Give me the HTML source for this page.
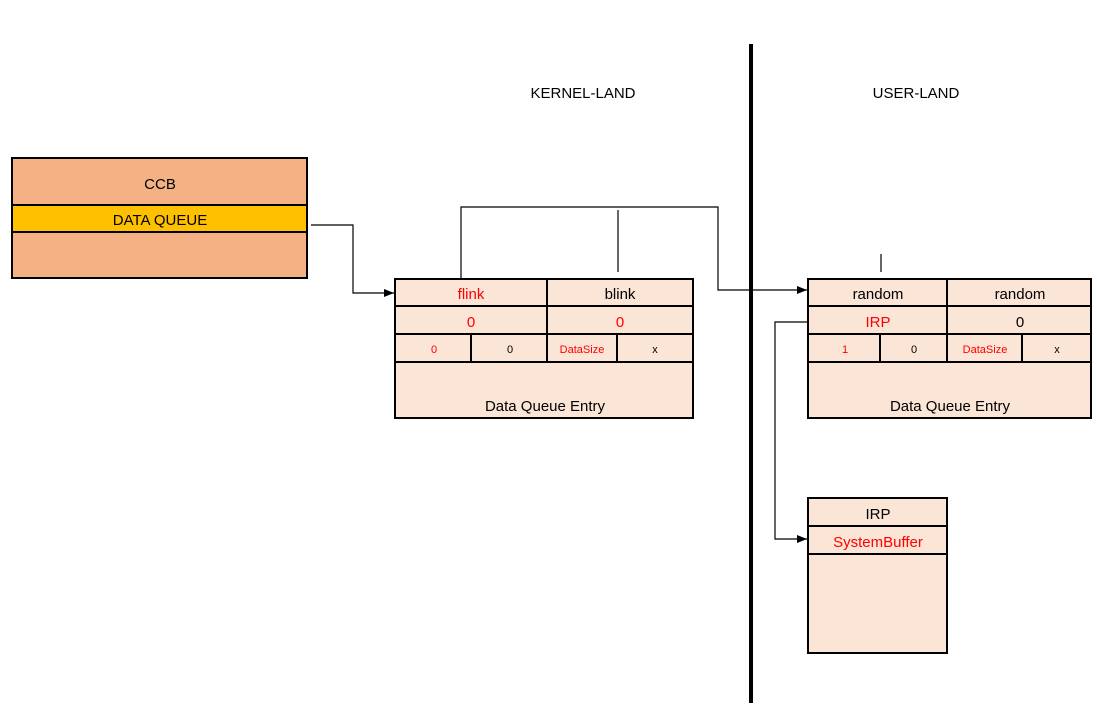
<!DOCTYPE html>
<html><head><meta charset="utf-8"><style>
html,body{margin:0;padding:0;background:#fff;}
svg{display:block;}
text{font-family:"Liberation Sans",sans-serif;}
</style></head><body>
<svg width="1097" height="712" viewBox="0 0 1097 712" xmlns="http://www.w3.org/2000/svg">
<defs>
<marker id="ar" markerWidth="10" markerHeight="8" refX="10" refY="4" orient="auto" markerUnits="userSpaceOnUse">
<path d="M0,0 L10,4 L0,8 z" fill="#000"/>
</marker>
</defs>
<!-- divider -->
<line x1="751" y1="44" x2="751" y2="703" stroke="#000" stroke-width="4"/>
<text x="583" y="98" font-size="15" text-anchor="middle" fill="#000">KERNEL-LAND</text>
<text x="916" y="98" font-size="15" text-anchor="middle" fill="#000">USER-LAND</text>

<!-- CCB -->
<rect x="12" y="158" width="295" height="120" fill="#F4B183" stroke="#000" stroke-width="2"/>
<rect x="12" y="205" width="295" height="27" fill="#FFC000" stroke="#000" stroke-width="2"/>
<text x="160" y="189" font-size="15" text-anchor="middle">CCB</text>
<text x="160" y="225" font-size="15" text-anchor="middle">DATA QUEUE</text>

<!-- connectors -->
<g fill="none" stroke="#000" stroke-width="1.2">
<polyline points="311,225 353,225 353,293 394,293" marker-end="url(#ar)"/>
<polyline points="461,278 461,207 718,207 718,290 807,290" marker-end="url(#ar)"/>
<line x1="618" y1="210" x2="618" y2="272"/>
<line x1="881" y1="254" x2="881" y2="272"/>
<polyline points="808,322 775,322 775,539 807,539" marker-end="url(#ar)"/>
</g>

<!-- left entry -->
<g stroke="#000" stroke-width="2" fill="#FBE5D6">
<rect x="395" y="279" width="298" height="139"/>
<line x1="395" y1="306" x2="693" y2="306"/>
<line x1="395" y1="334" x2="693" y2="334"/>
<line x1="395" y1="362" x2="693" y2="362"/>
<line x1="547" y1="279" x2="547" y2="362"/>
<line x1="471" y1="334" x2="471" y2="362"/>
<line x1="617" y1="334" x2="617" y2="362"/>
</g>
<text x="471" y="299" font-size="15" text-anchor="middle" fill="#F00">flink</text>
<text x="620" y="299" font-size="15" text-anchor="middle">blink</text>
<text x="471" y="327" font-size="15" text-anchor="middle" fill="#F00">0</text>
<text x="620" y="327" font-size="15" text-anchor="middle" fill="#F00">0</text>
<text x="434" y="353" font-size="11" text-anchor="middle" fill="#F00">0</text>
<text x="510" y="353" font-size="11" text-anchor="middle">0</text>
<text x="582" y="353" font-size="11" text-anchor="middle" fill="#F00">DataSize</text>
<text x="655" y="353" font-size="11" text-anchor="middle">x</text>
<text x="545" y="411" font-size="15" text-anchor="middle">Data Queue Entry</text>

<!-- right entry -->
<g stroke="#000" stroke-width="2" fill="#FBE5D6">
<rect x="808" y="279" width="283" height="139"/>
<line x1="808" y1="306" x2="1091" y2="306"/>
<line x1="808" y1="334" x2="1091" y2="334"/>
<line x1="808" y1="362" x2="1091" y2="362"/>
<line x1="947" y1="279" x2="947" y2="362"/>
<line x1="880" y1="334" x2="880" y2="362"/>
<line x1="1022" y1="334" x2="1022" y2="362"/>
</g>
<text x="878" y="299" font-size="15" text-anchor="middle">random</text>
<text x="1020" y="299" font-size="15" text-anchor="middle">random</text>
<text x="878" y="327" font-size="15" text-anchor="middle" fill="#F00">IRP</text>
<text x="1020" y="327" font-size="15" text-anchor="middle">0</text>
<text x="845" y="353" font-size="11" text-anchor="middle" fill="#F00">1</text>
<text x="914" y="353" font-size="11" text-anchor="middle">0</text>
<text x="985" y="353" font-size="11" text-anchor="middle" fill="#F00">DataSize</text>
<text x="1057" y="353" font-size="11" text-anchor="middle">x</text>
<text x="950" y="411" font-size="15" text-anchor="middle">Data Queue Entry</text>

<!-- IRP box -->
<g stroke="#000" stroke-width="2" fill="#FBE5D6">
<rect x="808" y="498" width="139" height="155"/>
<line x1="808" y1="526" x2="947" y2="526"/>
<line x1="808" y1="554" x2="947" y2="554"/>
</g>
<text x="878" y="519" font-size="15" text-anchor="middle">IRP</text>
<text x="878" y="547" font-size="15" text-anchor="middle" fill="#F00">SystemBuffer</text>
</svg>
</body></html>
